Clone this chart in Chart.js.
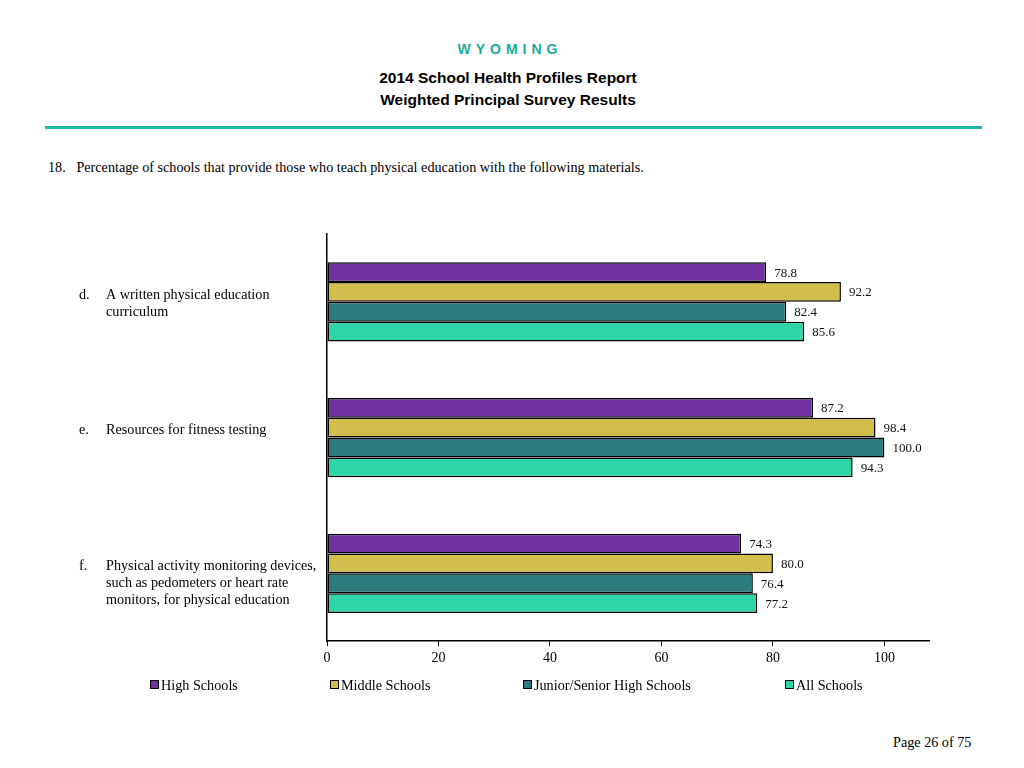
<!DOCTYPE html>
<html>
<head>
<meta charset="utf-8">
<script src="https://cdn.jsdelivr.net/npm/chart.js@4/dist/chart.umd.min.js"></script>
<style>
  html, body { margin: 0; padding: 0; background: #fff; }
  body { width: 1024px; height: 768px; position: relative; overflow: hidden; }
  .abs { position: absolute; white-space: nowrap; }
  #state { left: -2px; width: 1024px; top: 41px; text-align: center; font: bold 14px "Liberation Sans", Arial, sans-serif; color: #1BAA9B; letter-spacing: 5px; }
  .title { left: -4px; width: 1024px; text-align: center; font: bold 15.5px "Liberation Sans", Arial, sans-serif; color: #000; }
  #rule { left: 45px; top: 126px; width: 937px; height: 3px; background: #1BB5AA; }
  #question { left: 48px; top: 159px; font: 14.2px "Liberation Serif", "Times New Roman", serif; color: #000; }
  #chartBox { left: 0; top: 220px; width: 1024px; height: 460px; }
  #legend { left: 0; top: 677px; width: 1024px; height: 18px; font: 14.2px "Liberation Serif", "Times New Roman", serif; color: #000; }
  .leg { position: absolute; top: 0; }
  .leg span.box { display: inline-block; width: 7px; height: 7px; border: 1px solid #000; margin-right: 2px; vertical-align: 1px; }
  #page { left: 893px; top: 734px; font: 14.2px "Liberation Serif", "Times New Roman", serif; color: #000; }
</style>
</head>
<body>
<div id="state" class="abs">WYOMING</div>
<div class="abs title" style="top:69px">2014 School Health Profiles Report</div>
<div class="abs title" style="top:91px">Weighted Principal Survey Results</div>
<div id="rule" class="abs"></div>
<div id="question" class="abs">18.&nbsp;&nbsp;&nbsp;Percentage of schools that provide those who teach physical education with the following materials.</div>
<div id="chartBox" class="abs"><canvas id="c" width="1024" height="460"></canvas></div>
<div id="legend" class="abs"></div>
<div id="page" class="abs">Page 26 of 75</div>
<script>
// ---- data ----
const categoryLetters = ["d.", "e.", "f."];
const categoryLines = [
  ["A written physical education", "curriculum"],
  ["Resources for fitness testing"],
  ["Physical activity monitoring devices,", "such as pedometers or heart rate", "monitors, for physical education"]
];
const seriesNames = ["High Schools", "Middle Schools", "Junior/Senior High Schools", "All Schools"];
const highSchools = [78.8, 87.2, 74.3];
const middleSchools = [92.2, 98.4, 80.0];
const juniorSeniorHigh = [82.4, 100.0, 76.4];
const allSchools = [85.6, 94.3, 77.2];
const xTicks = [0, 20, 40, 60, 80, 100];

const seriesColors = ["#7030A0", "#D2BE4B", "#2E7B7D", "#2ED5A8"];
const seriesValues = [highSchools, middleSchools, juniorSeniorHigh, allSchools];

const serif = '"Liberation Serif", "Times New Roman", serif';

// HTML legend
const legendX = [150, 330, 523, 785];
const legendEl = document.getElementById('legend');
seriesNames.forEach((n, i) => {
  const d = document.createElement('div');
  d.className = 'leg';
  d.style.left = legendX[i] + 'px';
  d.innerHTML = '<span class="box" style="background:' + seriesColors[i] + '"></span>' + n;
  legendEl.appendChild(d);
});

const valueLabels = {
  id: 'valueLabels',
  afterDatasetsDraw(chart) {
    const ctx = chart.ctx;
    ctx.save();
    ctx.font = '13px ' + serif;
    ctx.fillStyle = '#111';
    ctx.textBaseline = 'middle';
    ctx.textAlign = 'left';
    chart.data.datasets.forEach((ds, di) => {
      chart.getDatasetMeta(di).data.forEach((bar, i) => {
        ctx.fillText(ds.data[i].toFixed(1), bar.x + 8, bar.y + 1);
      });
    });
    ctx.restore();
  }
};

const categoryText = {
  id: 'categoryText',
  afterDraw(chart) {
    const ctx = chart.ctx;
    const y = chart.scales.y;
    ctx.save();
    ctx.font = '14.2px ' + serif;
    ctx.fillStyle = '#000';
    ctx.textBaseline = 'middle';
    ctx.textAlign = 'left';
    categoryLetters.forEach((L, i) => {
      const cy = y.getPixelForValue(i) - 7;
      ctx.fillText(L, 79, cy);
      categoryLines[i].forEach((line, k) => ctx.fillText(line, 106, cy + k * 17));
    });
    ctx.restore();
  }
};

new Chart(document.getElementById('c'), {
  type: 'bar',
  data: {
    labels: categoryLetters,
    datasets: seriesNames.map((n, i) => ({
      label: n,
      data: seriesValues[i],
      backgroundColor: seriesColors[i],
      borderColor: '#000',
      borderWidth: 1.5,
      borderSkipped: false,
      barPercentage: 1.0,
      categoryPercentage: 0.585
    }))
  },
  options: {
    indexAxis: 'y',
    responsive: false,
    animation: false,
    layout: { padding: { left: 319, right: 95, top: 14, bottom: 9 } },
    plugins: { legend: { display: false }, tooltip: { enabled: false } },
    scales: {
      x: {
        min: 0, max: 108,
        afterBuildTicks: (s) => { s.ticks = xTicks.map(v => ({ value: v })); },
        grid: { display: true, drawOnChartArea: false, drawTicks: true, tickLength: 5, color: '#000', lineWidth: 1 },
        border: { display: true, color: '#000', width: 1.5 },
        ticks: { color: '#000', font: { family: serif, size: 14 }, padding: 4, maxRotation: 0 }
      },
      y: {
        grid: { display: false },
        border: { display: true, color: '#000', width: 1.5 },
        ticks: { display: false }
      }
    }
  },
  plugins: [valueLabels, categoryText]
});
</script>
</body>
</html>
